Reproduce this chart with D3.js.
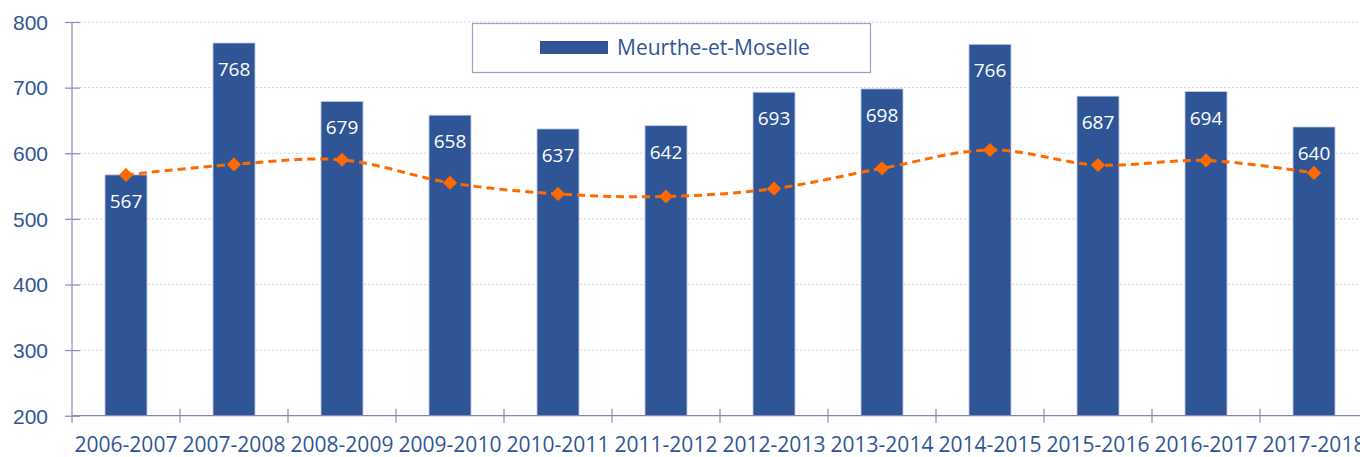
<!DOCTYPE html>
<html>
<head>
<meta charset="utf-8">
<script src="https://cdn.jsdelivr.net/npm/d3@7"></script>
<style>
  html, body { margin: 0; padding: 0; background: #fff; overflow: hidden; }
  svg { display: block; font-family: "Open Sans", "Noto Sans", sans-serif; }
</style>
</head>
<body>
<svg id="chart" width="1360" height="457"></svg>
<script>
// School years
const categories = ["2006-2007", "2007-2008", "2008-2009", "2009-2010", "2010-2011", "2011-2012",
                    "2012-2013", "2013-2014", "2014-2015", "2015-2016", "2016-2017", "2017-2018"];
// Meurthe-et-Moselle counts (bars)
const departement = [567, 768, 679, 658, 637, 642, 693, 698, 766, 687, 694, 640];
// Reference trend (dashed line)
const reference = [567, 583, 590, 555, 538, 534, 546, 577, 605, 582, 589, 570];
const yTicks = [200, 300, 400, 500, 600, 700, 800];
const legendLabel = "Meurthe-et-Moselle";

const BLUE = "#2f5597";
const ORANGE = "#ff6a00";
const AXIS = "#8a88b8";
const GRID = "#d2d2e4";

const svg = d3.select("#chart");
const margin = { left: 72, top: 22 };
const plotRight = 72 + 108 * categories.length;

const x = d3.scaleBand().domain(categories).range([margin.left, plotRight]).paddingInner(0.611).paddingOuter(0.3055);
const xBand = d3.scaleBand().domain(categories).range([margin.left, plotRight]);
const y = d3.scaleLinear().domain([200, 800]).range([415.7, margin.top]);

// Gridlines
svg.append("g")
  .selectAll("line")
  .data(yTicks.filter(t => t > 200))
  .join("line")
  .attr("x1", margin.left + 8).attr("x2", 1360)
  .attr("y1", d => y(d)).attr("y2", d => y(d))
  .attr("stroke", GRID).attr("stroke-width", 1).attr("stroke-dasharray", "2,2");

// Bars
svg.append("g")
  .selectAll("rect")
  .data(departement)
  .join("rect")
  .attr("x", (d, i) => x(categories[i]))
  .attr("width", x.bandwidth())
  .attr("y", d => y(d))
  .attr("height", d => y(200) - y(d))
  .attr("fill", BLUE)
  .attr("stroke", "#c3cce4").attr("stroke-width", 0.8);

// Bar value labels
svg.append("g")
  .selectAll("text")
  .data(departement)
  .join("text")
  .attr("x", (d, i) => x(categories[i]) + x.bandwidth() / 2)
  .attr("y", d => y(d) + 33)
  .attr("text-anchor", "middle")
  .attr("fill", "#fff")
  .attr("font-size", 19)
  .text(d => d);

// Y axis
const yAxis = d3.axisLeft(y).tickValues(yTicks).tickSize(0).tickPadding(0);
const gy = svg.append("g").attr("transform", `translate(${margin.left},0)`).call(yAxis);
gy.select(".domain").remove();
gy.selectAll(".tick text").remove();
gy.append("line").attr("x1", 0).attr("x2", 0).attr("y1", y(800)).attr("y2", y(200) + 7)
  .attr("stroke", AXIS).attr("stroke-width", 1.2);
gy.selectAll(".tick").append("line").attr("x1", -7).attr("x2", 8)
  .attr("stroke", AXIS).attr("stroke-width", 1.2);
gy.selectAll(".tick").append("text")
  .attr("x", -24).attr("dy", "0.35em")
  .attr("text-anchor", "end")
  .attr("fill", BLUE)
  .attr("font-size", 21)
  .text(d => d);

// X axis
const gx = svg.append("g").attr("transform", `translate(0,${y(200)})`);
gx.append("line").attr("x1", margin.left).attr("x2", 1360).attr("y1", 0).attr("y2", 0)
  .attr("stroke", AXIS).attr("stroke-width", 1.2);
gx.selectAll("line.tick")
  .data(categories)
  .join("line")
  .attr("class", "tick")
  .attr("x1", d => xBand(d) + xBand.bandwidth()).attr("x2", d => xBand(d) + xBand.bandwidth())
  .attr("y1", -7).attr("y2", 7)
  .attr("stroke", AXIS).attr("stroke-width", 1.2);
gx.selectAll("text")
  .data(categories)
  .join("text")
  .attr("x", d => xBand(d) + xBand.bandwidth() / 2)
  .attr("y", 452 - y(200))
  .attr("text-anchor", "middle")
  .attr("fill", BLUE)
  .attr("font-size", 21)
  .text(d => d);

// Dashed trend line
const line = d3.line()
  .x((d, i) => xBand(categories[i]) + xBand.bandwidth() / 2)
  .y(d => y(d))
  .curve(d3.curveCatmullRom.alpha(0.5));
svg.append("path")
  .datum(reference)
  .attr("d", line)
  .attr("fill", "none")
  .attr("stroke", ORANGE)
  .attr("stroke-width", 3)
  .attr("stroke-dasharray", "8,5");

// Diamond markers
const diamond = d3.symbol(d3.symbolSquare, 100);
svg.append("g")
  .selectAll("path")
  .data(reference)
  .join("path")
  .attr("d", diamond)
  .attr("transform", (d, i) => `translate(${xBand(categories[i]) + xBand.bandwidth() / 2},${y(d)}) rotate(45)`)
  .attr("fill", ORANGE);

// Legend
const legend = svg.append("g");
legend.append("rect")
  .attr("x", 472.5).attr("y", 23.5).attr("width", 398).attr("height", 49)
  .attr("fill", "#fff").attr("stroke", "#a09ec8").attr("stroke-width", 1.2);
legend.append("rect")
  .attr("x", 540).attr("y", 41).attr("width", 68).attr("height", 13)
  .attr("fill", BLUE);
legend.append("text")
  .attr("x", 617).attr("y", 55)
  .attr("fill", BLUE)
  .attr("font-size", 21)
  .text(legendLabel);
</script>
</body>
</html>
